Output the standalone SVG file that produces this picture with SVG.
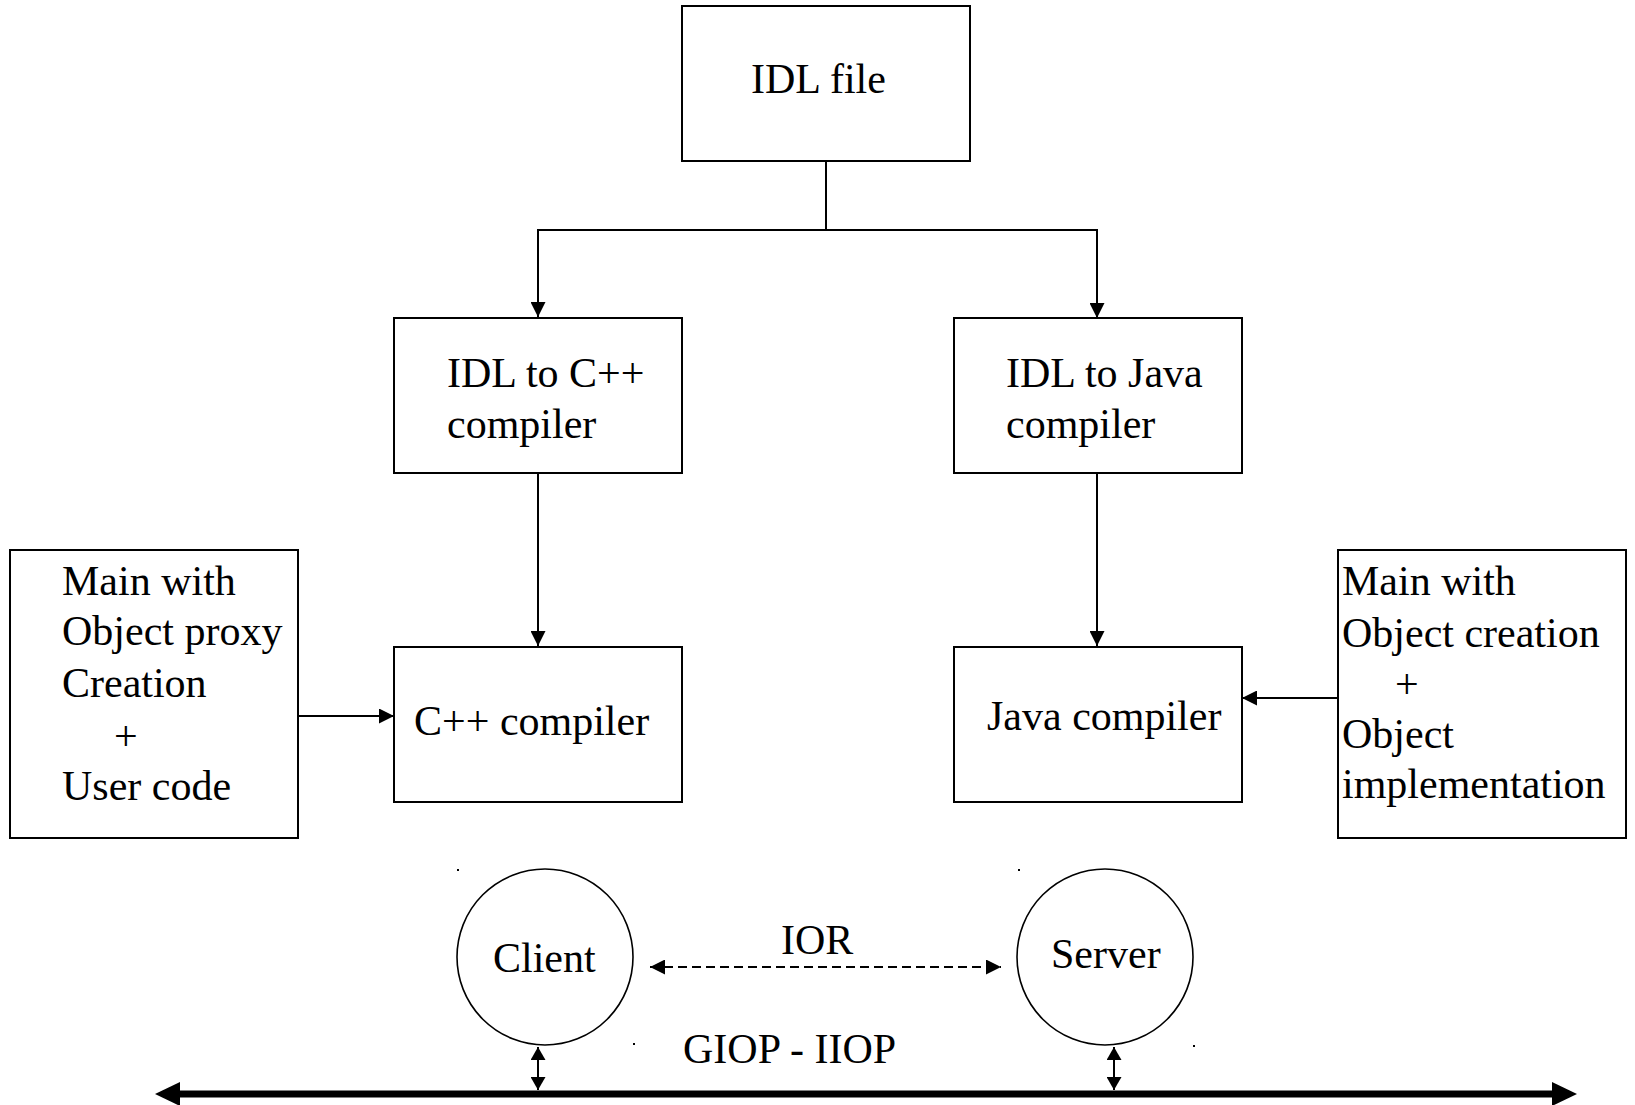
<svg xmlns="http://www.w3.org/2000/svg" width="1635" height="1105" viewBox="0 0 1635 1105">
<style>
.box{fill:#fff;stroke:#000;stroke-width:2}
.circ{fill:#fff;stroke:#000;stroke-width:1.6}
.t{font-family:"Liberation Serif","Times New Roman",serif;font-size:42px;fill:#000}
.ln{fill:none;stroke:#000;stroke-width:2}
.dash{fill:none;stroke:#000;stroke-width:2;stroke-dasharray:9 5}
.bus{fill:none;stroke:#000;stroke-width:7}
.dot{fill:#000}
</style>
<defs>
<marker id="ah" markerUnits="userSpaceOnUse" markerWidth="15" markerHeight="15" refX="15" refY="7.5" orient="auto-start-reverse" viewBox="0 0 15 15">
<path d="M0,0 L15,7.5 L0,15 z" fill="#000"/>
</marker>
<marker id="sh" markerUnits="userSpaceOnUse" markerWidth="13" markerHeight="15" refX="13" refY="7.5" orient="auto-start-reverse" viewBox="0 0 13 15">
<path d="M0,0 L13,7.5 L0,15 z" fill="#000"/>
</marker>
<marker id="big" markerUnits="userSpaceOnUse" markerWidth="25" markerHeight="24" refX="1" refY="12" orient="auto-start-reverse" viewBox="0 0 25 24">
<path d="M0,0 L25,12 L0,24 z" fill="#000"/>
</marker>
</defs>

<g id="connectors">
<path class="ln" d="M826,161 V230"/>
<path class="ln" d="M537,230 H1097"/>
<path class="ln" d="M538,229 V317" marker-end="url(#ah)"/>
<path class="ln" d="M1097,229 V318" marker-end="url(#ah)"/>
<path class="ln" d="M538,473 V646" marker-end="url(#ah)"/>
<path class="ln" d="M1097,472 V646" marker-end="url(#ah)"/>
<path class="ln" d="M298,716 H394" marker-end="url(#ah)"/>
<path class="ln" d="M1338,698 H1242" marker-end="url(#ah)"/>
<path class="dash" d="M650,967 H1001" marker-start="url(#ah)" marker-end="url(#ah)"/>
<path class="ln" d="M538,1047 V1090" marker-start="url(#sh)" marker-end="url(#sh)"/>
<path class="ln" d="M1114,1047 V1090" marker-start="url(#sh)" marker-end="url(#sh)"/>
<path class="bus" d="M179,1094 H1553" marker-start="url(#big)" marker-end="url(#big)"/>
</g>

<g id="idl-file">
<rect class="box" x="682" y="6" width="288" height="155"/>
<text class="t" x="751" y="93">IDL file</text>
</g>

<g id="idl-cpp">
<rect class="box" x="394" y="318" width="288" height="155"/>
<text class="t" x="447" y="387">IDL to C++</text>
<text class="t" x="447" y="438">compiler</text>
</g>

<g id="idl-java">
<rect class="box" x="954" y="318" width="288" height="155"/>
<text class="t" x="1006" y="387">IDL to Java</text>
<text class="t" x="1006" y="438">compiler</text>
</g>

<g id="cpp-compiler">
<rect class="box" x="394" y="647" width="288" height="155"/>
<text class="t" x="414" y="735">C++ compiler</text>
</g>

<g id="java-compiler">
<rect class="box" x="954" y="647" width="288" height="155"/>
<text class="t" x="987" y="730">Java compiler</text>
</g>

<g id="client-main">
<rect class="box" x="10" y="550" width="288" height="288"/>
<text class="t" x="62" y="595">Main with</text>
<text class="t" x="62" y="645">Object proxy</text>
<text class="t" x="62" y="697">Creation</text>
<text class="t" x="114" y="750">+</text>
<text class="t" x="62" y="800">User code</text>
</g>

<g id="server-main">
<rect class="box" x="1338" y="550" width="288" height="288"/>
<text class="t" x="1342" y="595">Main with</text>
<text class="t" x="1342" y="647">Object creation</text>
<text class="t" x="1395" y="698">+</text>
<text class="t" x="1342" y="748">Object</text>
<text class="t" x="1342" y="798">implementation</text>
</g>

<g id="client">
<ellipse class="circ" cx="545" cy="957" rx="88" ry="88"/>
<text class="t" x="493" y="972">Client</text>
</g>

<g id="server">
<ellipse class="circ" cx="1105" cy="957" rx="88" ry="88"/>
<text class="t" x="1051" y="968">Server</text>
</g>

<g id="labels">
<text class="t" x="781" y="954">IOR</text>
<text class="t" x="683" y="1063">GIOP - IIOP</text>
</g>

<g id="dots">
<rect class="dot" x="457" y="869" width="2" height="2"/>
<rect class="dot" x="1018" y="869" width="2" height="2"/>
<rect class="dot" x="633" y="1043" width="2" height="2"/>
<rect class="dot" x="1193" y="1045" width="2" height="2"/>
</g>
</svg>
